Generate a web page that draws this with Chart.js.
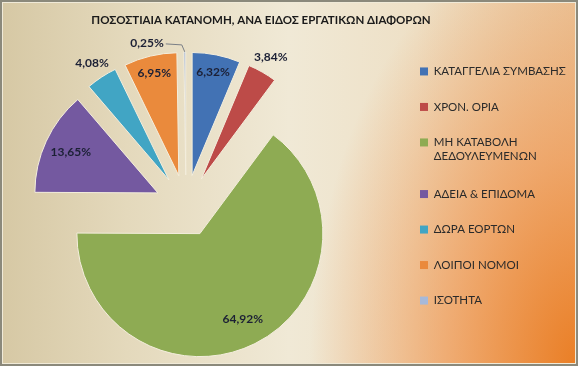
<!DOCTYPE html>
<html>
<head>
<meta charset="utf-8">
<script src="https://cdn.jsdelivr.net/npm/chart.js@4.4.1/dist/chart.umd.min.js"></script>
<style>
  body { margin: 0; }
  #frame {
    position: relative;
    width: 578px;
    height: 366px;
    background:
      radial-gradient(ellipse 58% 150% at 100% 100%, rgba(234, 122, 30, 0.95), rgba(240, 150, 80, 0.7) 38%, rgba(240, 175, 120, 0) 80%),
      linear-gradient(to right, #d6c8a4 0%, #e4d9bc 22%, #f0e9d6 50%, #eee0c6 72%, #e9c9a2 100%);
    box-shadow: inset 0 0 0 2px #8b897b, inset 0 0 0 3px #f0ead8;
  }
  canvas { position: absolute; left: 0; top: 0; }
</style>
</head>
<body>
<div id="frame"><canvas id="chart" width="578" height="366"></canvas></div>
<script>
// data
const title = 'ΠΟΣΟΣΤΙΑΙΑ ΚΑΤΑΝΟΜΗ, ΑΝΑ ΕΙΔΟΣ ΕΡΓΑΤΙΚΩΝ ΔΙΑΦΟΡΩΝ'
const categories = [
  'ΚΑΤΑΓΓΕΛΙΑ ΣΥΜΒΑΣΗΣ',
  'ΧΡΟΝ. ΟΡΙΑ',
  ['ΜΗ ΚΑΤΑΒΟΛΗ', 'ΔΕΔΟΥΛΕΥΜΕΝΩΝ'],
  'ΑΔΕΙΑ & ΕΠΙΔΟΜΑ',
  'ΔΩΡΑ ΕΟΡΤΩΝ',
  'ΛΟΙΠΟΙ ΝΟΜΟΙ',
  'ΙΣΟΤΗΤΑ'
]
const shares = [6.32, 3.84, 64.92, 13.65, 4.08, 6.95, 0.25]

// colours
const colours = ['#4272b4', '#bd4b48', '#8eab53', '#7459a0', '#41a5c4', '#ea8a3c', '#a7b9d9']
const font = 'Lato, "Noto Sans", sans-serif'
const EXPLODE = 31 // how far every slice is pulled out of the centre

// excel style explode: same push for every slice, radius untouched
const ArcElement = Chart.registry.getElement('arc')
const baseDraw = ArcElement.prototype.draw
ArcElement.prototype.draw = function (ctx) {
  const mid = (this.startAngle + this.endAngle) / 2
  ctx.save()
  ctx.translate(Math.cos(mid) * EXPLODE, Math.sin(mid) * EXPLODE)
  baseDraw.call(this, ctx)
  ctx.restore()
}

const formatShare = (value) => value.toFixed(2).replace('.', ',') + '%'

// percentage labels, inside big slices, outside small ones
const sliceLabels = {
  id: 'sliceLabels',
  afterLayout (chart) {
    // legend sits further right than the layout would put it, let it use the full width
    const legend = chart.legend
    legend.left = 396
    legend.right = chart.width
    legend.width = legend.right - legend.left
    legend.top = 6
  },
  afterDatasetsDraw (chart) {
    const { ctx } = chart
    const meta = chart.getDatasetMeta(0)
    ctx.save()
    ctx.font = 'bold 12px ' + font
    ctx.fillStyle = '#1c2035'
    ctx.textBaseline = 'middle'
    meta.data.forEach((arc, i) => {
      const value = shares[i]
      const mid = (arc.startAngle + arc.endAngle) / 2
      const cx = arc.x + Math.cos(mid) * EXPLODE
      const cy = arc.y + Math.sin(mid) * EXPLODE
      const r = arc.outerRadius
      const text = formatShare(value)
      if (value < 1) {
        // tiny slice: label off to the left with a leader line
        const px = cx + Math.cos(mid) * r
        const py = cy + Math.sin(mid) * r
        const ex = px - 3
        const ey = py - 7
        ctx.strokeStyle = '#7a7f86'
        ctx.lineWidth = 1
        ctx.beginPath()
        ctx.moveTo(px, py)
        ctx.lineTo(ex, ey)
        ctx.lineTo(ex - 16, ey - 1)
        ctx.stroke()
        ctx.textAlign = 'right'
        ctx.fillText(text, ex - 18, ey - 2)
        return
      }
      const f = value < 5 ? 1.14 : value < 10 ? 0.86 : 0.78
      ctx.textAlign = 'center'
      ctx.fillText(text, cx + Math.cos(mid) * r * f, cy + Math.sin(mid) * r * f)
    })
    ctx.restore()
  }
}

const canvas = document.getElementById('chart')
const chart = new Chart(canvas, {
  type: 'pie',
  data: {
    labels: categories,
    datasets: [{ data: shares, backgroundColor: colours, borderColor: '#f3eddc', borderWidth: 1 }]
  },
  options: {
    responsive: false,
    animation: false,
    radius: 123,
    layout: { padding: { left: 0, right: 56, top: 0, bottom: 0 } },
    plugins: {
      title: {
        display: true,
        text: title,
        color: '#1a1a1a',
        font: { family: font, size: 11.5, weight: 'bold' },
        padding: { top: 13, bottom: 19 }
      },
      legend: {
        position: 'right',
        align: 'center',
        maxWidth: 150,
        labels: {
          boxWidth: 8,
          boxHeight: 8,
          padding: 24,
          color: '#2a2a2a',
          font: { family: font, size: 11.5 },
          generateLabels: (c) => Chart.overrides.pie.plugins.legend.labels.generateLabels(c)
            .map(item => Object.assign(item, { lineWidth: 0 }))
        }
      },
      tooltip: { enabled: false }
    }
  },
  plugins: [sliceLabels]
})
</script>
</body>
</html>
